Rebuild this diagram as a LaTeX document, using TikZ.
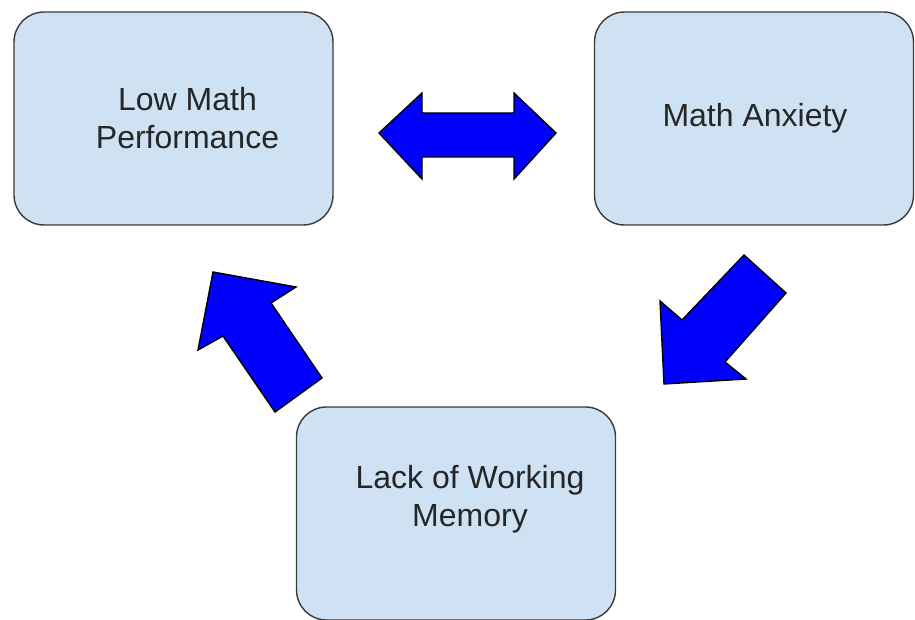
\documentclass[tikz,border=0pt]{standalone}
\usepackage{fontspec}
\setmainfont{Liberation Sans}
\usetikzlibrary{positioning}

\definecolor{boxblue}{HTML}{CFE2F3}
\definecolor{boxline}{HTML}{3A3A3A}

\tikzset{
  stagebox/.style={draw=boxline, line width=1.4pt, fill=boxblue, rounded corners=30pt,
    minimum width=319pt, minimum height=213pt, inner sep=0pt},
  stagetext/.style={align=center, inner sep=0pt, font=\fontsize{32}{38}\selectfont, text=black!85},
  blockarrow/.style={draw=black, line width=1.4pt, fill=blue, line join=miter}
}

\begin{document}
\begin{tikzpicture}[x=1pt,y=-1pt]
  \useasboundingbox (0,0) rectangle (915,620);

  \node[stagebox] (perfbox) at (173.5,118.5) {};
  \node[stagebox] (anxbox) at (754,118.5) {};
  \node[stagebox] (wmbox) at (456,513.5) {};

  \node[stagetext, xshift=14pt] (perf) at (perfbox.center) {Low Math\\Performance};
  \node[stagetext, xshift=1pt] (anx) at (anxbox.center) {Math Anxiety};
  \node[stagetext, xshift=14pt, yshift=14pt] (wm) at (wmbox.center) {Lack of Working\\Memory};

  % double arrow between the top boxes
  \draw[blockarrow] (379,133) -- (422,93) -- (422,113) -- (514,113) -- (514,93) -- (556,133)
      -- (514,179) -- (514,157) -- (422,157) -- (422,179) -- cycle;

  % anxiety -> memory
  \draw[blockarrow] (744,255) -- (786,293) -- (725,362) -- (746,379) -- (664,384)
      -- (660,301) -- (682,320) -- cycle;

  % memory -> performance
  \draw[blockarrow] (213,272) -- (296,287) -- (271,303) -- (322,378) -- (275,412)
      -- (223,336) -- (198,350) -- cycle;
\end{tikzpicture}
\end{document}
